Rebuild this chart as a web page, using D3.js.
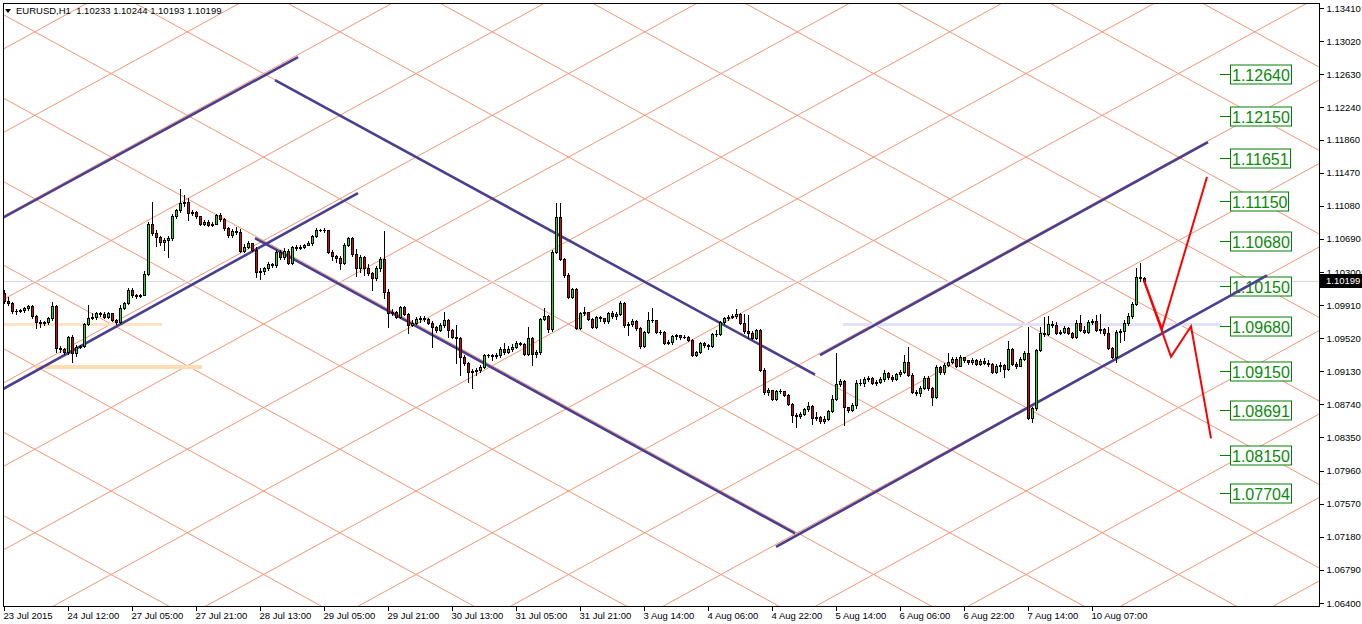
<!DOCTYPE html>
<html><head><meta charset="utf-8">
<script src="https://cdn.jsdelivr.net/npm/d3@7"></script>
<style>html,body{margin:0;padding:0;background:#fff}svg{display:block;font-family:"Liberation Sans",Arial,sans-serif}</style>
</head><body><svg id="c" width="1362" height="624"></svg>
<script>
// ---------------- DATA ----------------
const symbol = "EURUSD,H1";
const firstOpen = 1.1005;
const closes = [
1.0996,1.0993,1.0984,1.0984,1.0985,1.0988,1.0990,1.0978,1.0971,1.0970,
1.0971,1.0976,1.0990,1.0940,1.0939,1.0936,1.0953,1.0935,1.0942,1.0943,
1.0969,1.0976,1.0977,1.0982,1.0980,1.0977,1.0982,1.0973,1.0971,1.0988,
1.0993,1.1009,1.1003,1.1002,1.1003,1.1028,1.1086,1.1076,1.1071,1.1065,
1.1068,1.1070,1.1096,1.1103,1.1111,1.1112,1.1099,1.1101,1.1096,1.1086,
1.1089,1.1085,1.1086,1.1097,1.1092,1.1082,1.1074,1.1078,1.1077,1.1055,
1.1059,1.1064,1.1056,1.1030,1.1031,1.1035,1.1039,1.1038,1.1054,1.1048,
1.1055,1.1041,1.1059,1.1058,1.1059,1.1062,1.1064,1.1072,1.1079,1.1079,
1.1079,1.1054,1.1049,1.1046,1.1041,1.1062,1.1070,1.1051,1.1035,1.1048,
1.1035,1.1029,1.1023,1.1035,1.1045,1.1006,1.0982,1.0983,1.0977,1.0989,
1.0980,1.0967,1.0970,1.0975,1.0976,1.0975,1.0970,1.0965,1.0962,1.0967,
1.0973,1.0962,1.0953,1.0952,1.0930,1.0923,1.0912,1.0913,1.0914,1.0918,
1.0932,1.0932,1.0931,1.0932,1.0939,1.0936,1.0939,1.0942,1.0946,1.0945,
1.0933,1.0952,1.0933,1.0936,1.0975,1.0978,1.0963,1.1054,1.1095,1.1045,
1.1026,1.1001,1.1010,1.0964,1.0982,1.0983,1.0975,1.0965,1.0977,1.0976,
1.0972,1.0982,1.0978,1.0980,1.0993,1.0967,1.0969,1.0972,1.0964,1.0943,
1.0959,1.0973,1.0973,1.0959,1.0959,1.0946,1.0947,1.0955,1.0956,1.0953,
1.0953,1.0950,1.0932,1.0936,1.0946,1.0944,1.0943,1.0957,1.0957,1.0971,
1.0976,1.0977,1.0978,1.0980,1.0970,1.0960,1.0958,1.0952,1.0962,1.0914,
1.0889,1.0891,1.0880,1.0890,1.0890,1.0885,1.0874,1.0861,1.0860,1.0863,
1.0869,1.0872,1.0858,1.0859,1.0854,1.0857,1.0866,1.0880,1.0898,1.0902,
1.0871,1.0867,1.0873,1.0899,1.0899,1.0904,1.0905,1.0899,1.0900,1.0904,
1.0911,1.0906,1.0904,1.0910,1.0912,1.0924,1.0909,1.0889,1.0887,1.0893,
1.0905,1.0893,1.0883,1.0918,1.0912,1.0920,1.0924,1.0927,1.0919,1.0930,
1.0926,1.0924,1.0926,1.0922,1.0925,1.0923,1.0922,1.0912,1.0919,1.0920,
1.0916,1.0939,1.0922,1.0919,1.0927,1.0935,1.0858,1.0870,1.0938,1.0958,
1.0957,1.0969,1.0967,1.0958,1.0959,1.0964,1.0958,1.0953,1.0970,1.0962,
1.0959,1.0971,1.0972,1.0962,1.0963,1.0958,1.0940,1.0930,1.0959,1.0960,
1.0970,1.0978,1.0992,1.1024,1.10233,1.10199];
const highs = [
1.1009,1.1001,1.0995,1.0986,1.0986,1.0989,1.0991,1.0991,1.0979,1.0973,
1.0972,1.0977,1.0995,1.0991,1.0943,1.0940,1.0955,1.0956,1.0944,1.0944,
1.0970,1.0991,1.0982,1.0983,1.0983,1.0983,1.0983,1.0982,1.0975,1.0991,
1.0995,1.1011,1.1011,1.1004,1.1004,1.1031,1.1089,1.1112,1.1079,1.1072,
1.1070,1.1072,1.1098,1.1104,1.1128,1.1121,1.1117,1.1103,1.1102,1.1096,
1.1091,1.1091,1.1089,1.1098,1.1099,1.1094,1.1083,1.1081,1.1083,1.1081,
1.1063,1.1067,1.1064,1.1059,1.1035,1.1036,1.1042,1.1041,1.1056,1.1056,
1.1058,1.1057,1.1061,1.1062,1.1062,1.1063,1.1067,1.1074,1.1082,1.1081,
1.1082,1.1079,1.1056,1.1050,1.1049,1.1064,1.1071,1.1071,1.1057,1.1050,
1.1049,1.1039,1.1030,1.1037,1.1048,1.1078,1.1010,1.0986,1.0984,1.0990,
1.0990,1.0982,1.0973,1.0977,1.0978,1.0978,1.0976,1.0972,1.0966,1.0970,
1.0983,1.0975,1.0963,1.0967,1.0953,1.0932,1.0924,1.0916,1.0917,1.0920,
1.0933,1.0933,1.0933,1.0935,1.0942,1.0946,1.0943,1.0945,1.0949,1.0947,
1.0946,1.0965,1.0953,1.0938,1.0976,1.0988,1.0979,1.1056,1.1111,1.1111,
1.1046,1.1029,1.1011,1.1011,1.0983,1.0989,1.0982,1.0976,1.0978,1.0978,
1.0976,1.0983,1.0984,1.0983,1.0996,1.0995,1.0971,1.0975,1.0973,1.0965,
1.0960,1.0983,1.0988,1.0973,1.0962,1.0960,1.0950,1.0956,1.0957,1.0956,
1.0956,1.0955,1.0951,1.0937,1.0947,1.0947,1.0945,1.0958,1.0962,1.0972,
1.0977,1.0979,1.0980,1.0986,1.0982,1.0980,1.0979,1.0960,1.0963,1.0963,
1.0917,1.0893,1.0890,1.0891,1.0892,1.0890,1.0886,1.0876,1.0864,1.0865,
1.0870,1.0877,1.0873,1.0865,1.0860,1.0860,1.0867,1.0885,1.0935,1.0904,
1.0903,1.0870,1.0876,1.0903,1.0904,1.0906,1.0907,1.0906,1.0903,1.0906,
1.0914,1.0912,1.0909,1.0911,1.0914,1.0932,1.0942,1.0911,1.0891,1.0896,
1.0907,1.0907,1.0894,1.0920,1.0919,1.0923,1.0935,1.0930,1.0930,1.0932,
1.0929,1.0926,1.0929,1.0927,1.0927,1.0929,1.0926,1.0923,1.0922,1.0924,
1.0922,1.0949,1.0940,1.0924,1.0930,1.0937,1.0965,1.0871,1.0939,1.0965,
1.0977,1.0978,1.0972,1.0971,1.0962,1.0966,1.0965,1.0959,1.0973,1.0979,
1.0966,1.0973,1.0975,1.0979,1.0980,1.0964,1.0965,1.0942,1.0962,1.0963,
1.0973,1.0982,1.0995,1.1035,1.1041,1.10244];
const lows = [
1.0993,1.0991,1.0982,1.0980,1.0983,1.0983,1.0985,1.0976,1.0964,1.0965,
1.0967,1.0969,1.0973,1.0936,1.0936,1.0933,1.0933,1.0924,1.0931,1.0940,
1.0942,1.0967,1.0975,1.0975,1.0978,1.0976,1.0976,1.0972,1.0969,1.0970,
1.0986,1.0992,1.1001,1.0999,1.1001,1.1003,1.1026,1.1074,1.1061,1.1062,
1.1056,1.1048,1.1068,1.1094,1.1101,1.1108,1.1091,1.1097,1.1094,1.1085,
1.1085,1.1084,1.1084,1.1086,1.1090,1.1079,1.1071,1.1071,1.1075,1.1054,
1.1054,1.1058,1.1055,1.1024,1.1022,1.1028,1.1032,1.1036,1.1036,1.1045,
1.1045,1.1039,1.1039,1.1056,1.1057,1.1058,1.1062,1.1062,1.1071,1.1078,
1.1077,1.1052,1.1044,1.1042,1.1034,1.1039,1.1061,1.1049,1.1025,1.1030,
1.1026,1.1026,1.1009,1.1021,1.1031,1.0999,1.0965,1.0979,1.0976,1.0976,
1.0979,1.0958,1.0966,1.0969,1.0971,1.0972,1.0969,1.0942,1.0959,1.0960,
1.0965,1.0953,1.0952,1.0923,1.0909,1.0920,1.0900,1.0893,1.0909,1.0912,
1.0917,1.0930,1.0926,1.0929,1.0930,1.0933,1.0935,1.0937,1.0940,1.0944,
1.0932,1.0932,1.0920,1.0930,1.0933,1.0973,1.0959,1.0960,1.1052,1.1044,
1.1024,1.0999,1.0999,1.0963,1.0963,1.0979,1.0973,1.0964,1.0964,1.0972,
1.0970,1.0970,1.0976,1.0975,1.0979,1.0965,1.0956,1.0966,1.0962,1.0940,
1.0942,1.0958,1.0971,1.0958,1.0957,1.0945,1.0945,1.0945,1.0951,1.0951,
1.0952,1.0949,1.0931,1.0931,1.0935,1.0942,1.0939,1.0942,1.0955,1.0956,
1.0969,1.0973,1.0976,1.0976,1.0969,1.0958,1.0952,1.0951,1.0951,1.0913,
1.0886,1.0885,1.0879,1.0879,1.0887,1.0884,1.0873,1.0853,1.0847,1.0858,
1.0861,1.0866,1.0851,1.0856,1.0852,1.0852,1.0856,1.0865,1.0879,1.0896,
1.0850,1.0865,1.0866,1.0870,1.0897,1.0896,1.0902,1.0898,1.0897,1.0899,
1.0902,1.0904,1.0902,1.0903,1.0907,1.0911,1.0907,1.0887,1.0885,1.0884,
1.0892,1.0891,1.0873,1.0881,1.0910,1.0910,1.0919,1.0923,1.0918,1.0919,
1.0924,1.0922,1.0922,1.0920,1.0920,1.0922,1.0919,1.0911,1.0911,1.0913,
1.0906,1.0914,1.0920,1.0917,1.0920,1.0926,1.0857,1.0853,1.0867,1.0937,
1.0955,1.0956,1.0965,1.0957,1.0957,1.0958,1.0957,1.0952,1.0952,1.0960,
1.0958,1.0958,1.0969,1.0960,1.0958,1.0956,1.0939,1.0929,1.0924,1.0947,
1.0950,1.0967,1.0976,1.0991,1.1019,1.10193];

const timeLabels = ["23 Jul 2015","24 Jul 12:00","27 Jul 05:00","27 Jul 21:00","28 Jul 13:00",
  "29 Jul 05:00","29 Jul 21:00","30 Jul 13:00","31 Jul 05:00","31 Jul 21:00","3 Aug 14:00",
  "4 Aug 06:00","4 Aug 22:00","5 Aug 14:00","6 Aug 06:00","6 Aug 22:00","7 Aug 14:00","10 Aug 07:00"];
const barsPerLabel = 16;
const priceTicks = [1.06400,1.06790,1.07180,1.07570,1.07960,1.08350,1.08740,1.09130,1.09520,
  1.09910,1.10300,1.10690,1.11080,1.11470,1.11860,1.12240,1.12630,1.13020,1.13410];
const levelLabels = [1.12640,1.12150,1.11651,1.11150,1.10680,1.10150,1.09680,1.09150,1.08691,1.08150,1.07704];
const levelLabelBar = [304, 306.5];   // tick start bar, box start bar

// trend lines: [bar1, price1, bar2, price2]
const channelLines = [
  [-0.25,1.1094, 73.5,1.1283],
  [-0.25,1.0892, 88.5,1.1123],
  [67.75,1.1256, 202.75,1.0909],
  [62.75,1.1070, 197.75,1.0722],
  [193,1.0706, 315.75,1.1026],
  [204,1.0932, 301,1.1183]
];
// horizontal levels: [price, barFrom, barTo]
const levelLines = [
  [1.0968, -1, 39.5],
  [1.0918, 7.75, 49.5],
  [1.0968, 209.75, 304.5]
];
// Gann grid definition
const gannBar = 328.75, gannUpPrice = 1.1256, gannDownPrice = 1.12715, gannSlope = 0.000258, gannStep = 0.009836;
// forecast paths [bar, price]
const forecastUp = [[285,1.10199],[289.5,1.0963],[300.75,1.1142]];
const forecastDown = [[285,1.10199],[291.75,1.0930],[296.75,1.0966],[301.75,1.0834]];

// ---------------- DRAW ----------------
const svg = d3.select("#c");
const P = {l:3, t:3, r:1319, b:606};
const x = d3.scaleLinear().domain([0, 100]).range([4, 404]);
const y = d3.scaleLinear().domain([1.06400, 1.13410]).range([603, 8]);
const FONT = "Liberation Sans, Arial, sans-serif";

svg.append("rect").attr("width",1362).attr("height",624).attr("fill","#fff");
svg.append("defs").append("clipPath").attr("id","pc").append("rect")
  .attr("x",P.l).attr("y",P.t).attr("width",P.r-P.l).attr("height",P.b-P.t);
const plotG = svg.append("g").attr("clip-path","url(#pc)");

// Gann grid
const gridG = plotG.append("g").attr("stroke","#F99475").attr("stroke-width",1).attr("fill","none");
const gb0 = -20, gb1 = 340;
d3.range(-14, 15).forEach(k => {
  const pu = b => gannUpPrice + gannSlope*(b-gannBar) + k*gannStep;
  const pd = b => gannDownPrice - gannSlope*(b-gannBar) + k*gannStep;
  gridG.append("line").attr("x1",x(gb0)).attr("y1",y(pu(gb0))).attr("x2",x(gb1)).attr("y2",y(pu(gb1)));
  gridG.append("line").attr("x1",x(gb0)).attr("y1",y(pd(gb0))).attr("x2",x(gb1)).attr("y2",y(pd(gb1)));
});

// horizontal level lines
const levelStyles = [{c:"#FFE3C6",w:3},{c:"#FDDCB6",w:4},{c:"#E1E1F7",w:3}];
levelLines.forEach((d,i) => {
  plotG.append("line").attr("x1",x(d[1])).attr("x2",x(d[2])).attr("y1",y(d[0])).attr("y2",y(d[0]))
    .attr("stroke",levelStyles[i].c).attr("stroke-width",levelStyles[i].w);
});

// current price line
const last = closes.length-1;
plotG.append("line").attr("x1",P.l).attr("x2",P.r).attr("y1",Math.round(y(closes[last]))+0.5).attr("y2",Math.round(y(closes[last]))+0.5)
  .attr("stroke","#D6D6E8").attr("stroke-width",1);

// level labels
const lg = plotG.append("g");
levelLabels.forEach(v => {
  const yy = Math.round(y(v)) + 1.5;
  lg.append("line").attr("x1",x(levelLabelBar[0])).attr("x2",x(levelLabelBar[1])).attr("y1",yy).attr("y2",yy)
    .attr("stroke","#008000").attr("stroke-width",1);
  const bx = x(levelLabelBar[1]);
  const box = lg.append("rect").attr("y",yy-9.5).attr("height",19).attr("fill","#fff").attr("stroke","#008000").attr("stroke-width",1);
  const t = lg.append("text").attr("x",bx+2).attr("y",yy+6).attr("font-family",FONT).attr("font-size",16)
    .attr("fill","#0B8A0B").text(v.toFixed(5));
  const w = t.node().getComputedTextLength();
  box.attr("x",bx+0.5).attr("width",Math.round(w)+3);
});

// channel lines
plotG.append("g").selectAll("line").data(channelLines).join("line")
  .attr("x1",d=>x(d[0])).attr("y1",d=>y(d[1])).attr("x2",d=>x(d[2])).attr("y2",d=>y(d[3]))
  .attr("stroke","#4A3F8F").attr("stroke-width",2.6).attr("stroke-linecap","butt");

// candles
const opens = closes.map((c,i)=> i===0 ? firstOpen : closes[i-1]);
const bars = closes.map((c,i)=>({i, o:opens[i], c, h:Math.max(highs[i],opens[i],c), l:Math.min(lows[i],opens[i],c)}));
const cg = plotG.append("g").attr("shape-rendering","crispEdges");
bars.forEach(d => {
  const cx = Math.round(x(d.i));
  const yh = Math.round(y(d.h)), yl = Math.round(y(d.l));
  const yt = Math.round(y(Math.max(d.o,d.c))), yb = Math.round(y(Math.min(d.o,d.c)));
  cg.append("rect").attr("x",cx).attr("y",yh).attr("width",1).attr("height",Math.max(1,yl-yh+1)).attr("fill","#000");
  cg.append("rect").attr("x",cx-1).attr("y",yt).attr("width",3).attr("height",Math.max(1,yb-yt+1)).attr("fill","#000");
  if (yb-yt >= 2) {
    cg.append("rect").attr("x",cx).attr("y",yt+1).attr("width",1).attr("height",yb-yt-1)
      .attr("fill", d.c >= d.o ? "#22D822" : "#E00000");
  }
});

// forecast zigzag
const ln = d3.line().x(d=>x(d[0])).y(d=>y(d[1]));
[forecastUp, forecastDown].forEach(p => {
  plotG.append("path").attr("d",ln(p)).attr("fill","none").attr("stroke","#FF0000").attr("stroke-width",2);
});

// frame
svg.append("rect").attr("x",P.l+0.5).attr("y",P.t+0.5).attr("width",P.r-P.l).attr("height",P.b-P.t)
  .attr("fill","none").attr("stroke","#000").attr("stroke-width",1).attr("shape-rendering","crispEdges");

// right axis
const ya = svg.append("g").attr("transform",`translate(${P.r+0.5},0)`)
  .call(d3.axisRight(y).tickValues(priceTicks).tickFormat(d3.format(".5f")).tickSize(4).tickPadding(3));
ya.select(".domain").remove();
ya.selectAll("text").attr("font-family",FONT).attr("font-size",9.5).attr("fill","#000");
ya.selectAll("line").attr("stroke","#000").attr("shape-rendering","crispEdges");

// current price tag
const cy = y(closes[last]);
svg.append("rect").attr("x",P.r+1).attr("y",Math.round(cy)-7).attr("width",43).attr("height",14).attr("fill","#000");
svg.append("text").attr("x",P.r+7).attr("y",cy+3.5).attr("font-family",FONT).attr("font-size",9.5)
  .attr("fill","#fff").text(closes[last].toFixed(5));

// bottom axis
const xa = svg.append("g").attr("transform",`translate(0,${P.b+0.5})`)
  .call(d3.axisBottom(x).tickValues(timeLabels.map((d,i)=>i*barsPerLabel)).tickFormat((d,i)=>timeLabels[i]).tickSize(4));
xa.select(".domain").remove();
xa.selectAll("line").attr("stroke","#000").attr("shape-rendering","crispEdges");
xa.selectAll("text").attr("font-family",FONT).attr("font-size",9.5).attr("fill","#000")
  .attr("text-anchor","start").attr("x",-1).attr("y",12.5).attr("dy",0);

// header
svg.append("path").attr("d","M5,9 L11,9 L8,13 Z").attr("fill","#000");
const b = bars[last];
svg.append("text").attr("x",16).attr("y",14).attr("font-family",FONT).attr("font-size",9.5).attr("fill","#000")
  .attr("xml:space","preserve")
  .text(`${symbol}  ${b.o.toFixed(5)} ${b.h.toFixed(5)} ${b.l.toFixed(5)} ${b.c.toFixed(5)}`);
</script>
</body></html>
